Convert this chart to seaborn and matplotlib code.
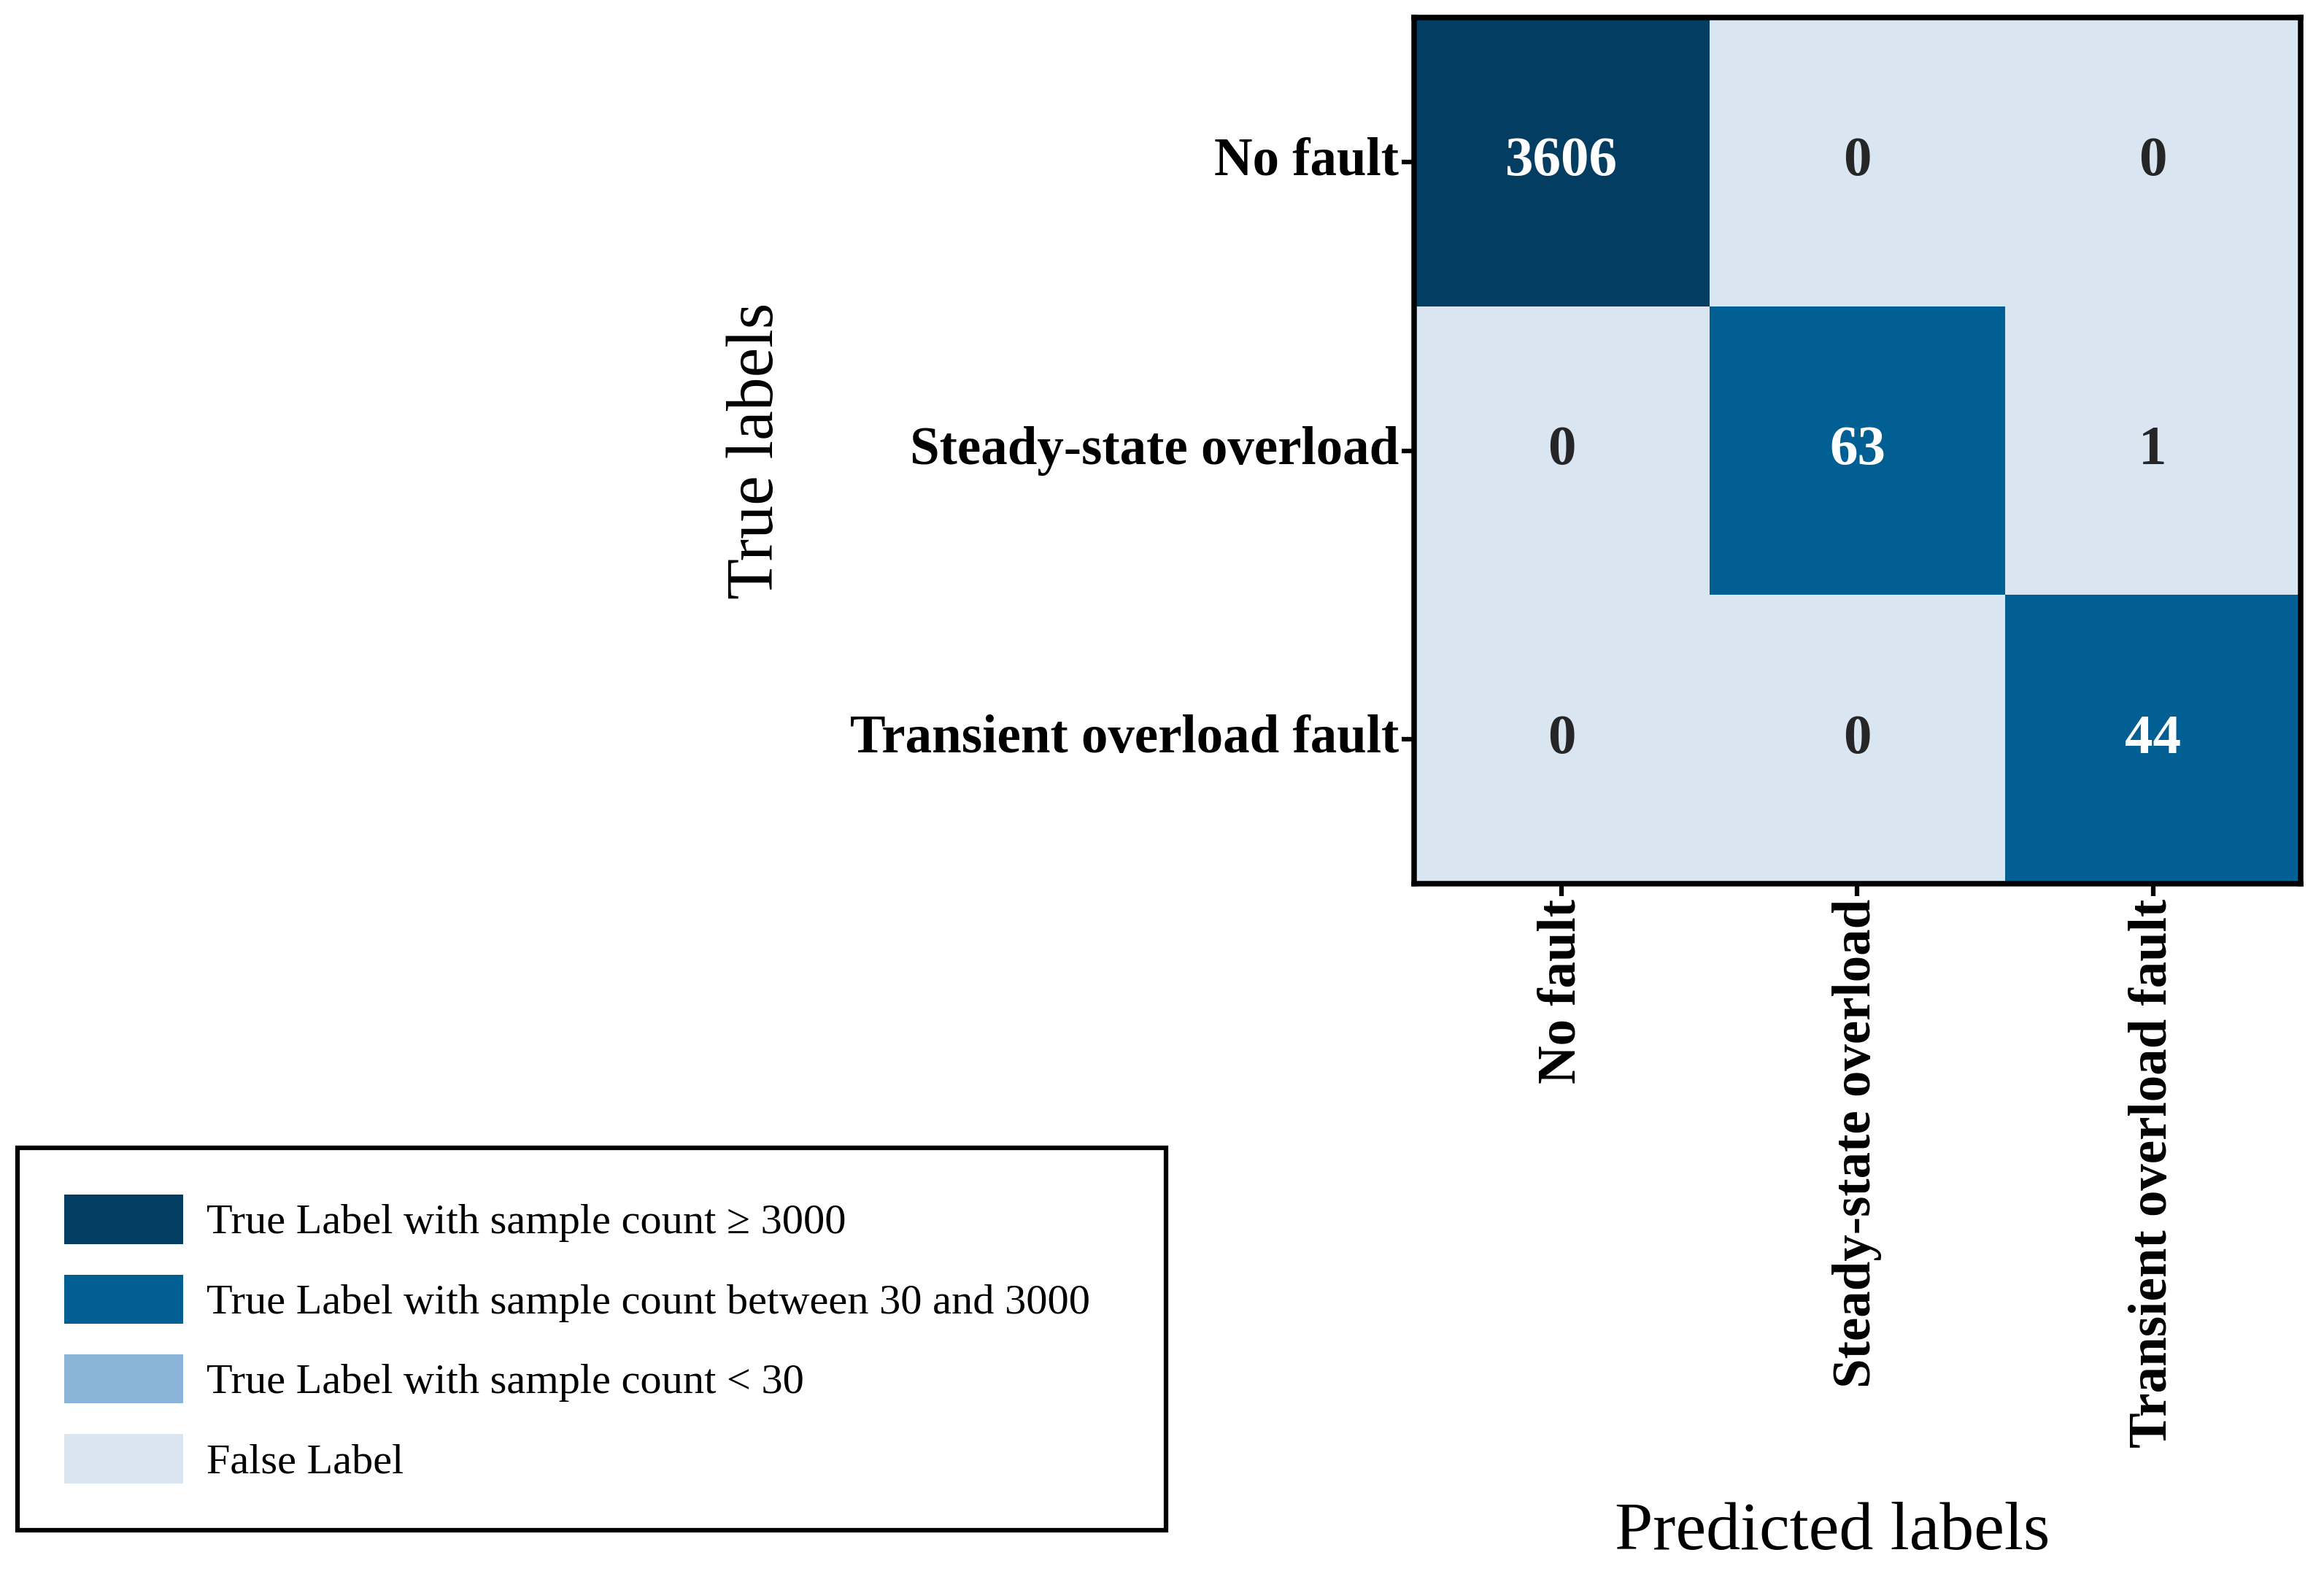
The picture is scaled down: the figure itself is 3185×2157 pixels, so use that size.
import numpy as np
import seaborn as sns
import matplotlib.pyplot as plt
from matplotlib.colors import ListedColormap
from matplotlib.patches import Patch

# --- Data ---
class_names = ["No fault", "Steady-state overload", "Transient overload fault"]
counts = np.array([
    [3606, 0, 0],
    [0, 63, 1],
    [0, 0, 44],
])

legend_labels = [
    "True Label with sample count \u2265 3000",
    "True Label with sample count between 30 and 3000",
    "True Label with sample count < 30",
    "False Label",
]
# false, <30, 30-3000, >=3000
level_colors = ["#d9e6f2", "#89b4d8", "#025f94", "#033d62"]

# --- Colour level for each cell ---
levels = np.zeros_like(counts)
for i in range(len(class_names)):
    c = counts[i, i]
    if c >= 3000:
        levels[i, i] = 3
    elif c >= 30:
        levels[i, i] = 2
    else:
        levels[i, i] = 1

plt.rcParams["font.family"] = ["Liberation Serif", "DejaVu Serif"]

fig = plt.figure(figsize=(10.62, 7.19), dpi=300)
ax = fig.add_axes([0.6082, 0.4386, 0.3815, 0.5502])

sns.heatmap(
    levels,
    ax=ax,
    cmap=ListedColormap(level_colors),
    vmin=-0.5,
    vmax=3.5,
    annot=counts,
    fmt="d",
    cbar=False,
    linewidths=0,
    xticklabels=class_names,
    yticklabels=class_names,
    annot_kws={"fontsize": 18.5, "fontweight": "bold"},
)

for s in ax.spines.values():
    s.set_visible(True)
    s.set_linewidth(1.8)
    s.set_color("black")

ax.tick_params(axis="both", length=4, width=1.5, pad=1, labelsize=17.5)
for lab in ax.get_xticklabels() + ax.get_yticklabels():
    lab.set_fontweight("bold")
ax.set_xticklabels(ax.get_xticklabels(), rotation=90)
ax.set_yticklabels(ax.get_yticklabels(), rotation=0)

ax.set_xlabel("Predicted labels", fontsize=22.5)
ax.set_ylabel("True labels", fontsize=22)
ax.xaxis.set_label_coords(0.472, -0.714)
ax.yaxis.set_label_coords(-0.707, 0.5)

handles = [Patch(facecolor=level_colors[k], edgecolor="none") for k in [3, 2, 1, 0]]
leg = fig.legend(
    handles,
    legend_labels,
    loc="upper left",
    bbox_to_anchor=(0.0075, 0.2707, 0.494, 0.0),
    mode="expand",
    borderaxespad=0,
    fontsize=14,
    frameon=True,
    framealpha=1,
    fancybox=False,
    borderpad=1.1,
    handlelength=2.8,
    handleheight=1.4,
    handletextpad=0.55,
    labelspacing=0.72,
)
leg.get_frame().set_edgecolor("black")
leg.get_frame().set_linewidth(1.5)

plt.savefig("out.png", dpi=300)
